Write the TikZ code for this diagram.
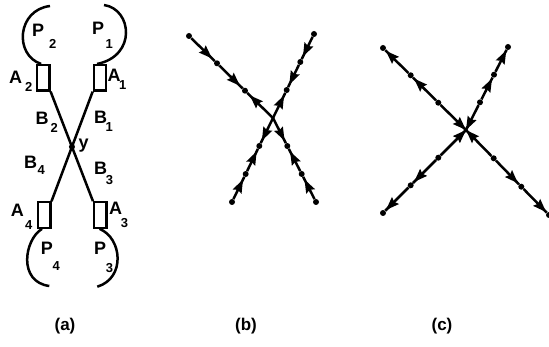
\documentclass[tikz,border=0pt]{standalone}
\usepackage{fontspec}
\setmainfont{Liberation Sans}
\usetikzlibrary{arrows.meta,decorations.markings,calc}
\newcommand\lsub[4]{\makebox[#3pt][l]{#1}\raisebox{-#4pt}{\fontsize{13}{13}\selectfont #2}}
\begin{document}
\begin{tikzpicture}[x=1pt,y=-1pt,
  ln/.style={line width=2.5pt},
  boxA/.style={draw,line width=2.2pt,minimum width=12.5pt,minimum height=25.5pt,inner sep=0pt},
  junc/.style={circle,fill,inner sep=0pt,minimum size=6pt},
  lbl/.style={inner sep=0pt,anchor=base west,font=\fontsize{18}{18}\selectfont\bfseries},
  captxt/.style={inner sep=0pt,anchor=base,font=\fontsize{17}{17}\selectfont\bfseries},
  seg/.style={line width=2.5pt,postaction={decorate},decoration={markings,mark=at position #1 with {\fill (0pt,0pt) -- (-13.5pt,5pt) -- (-11.5pt,0pt) -- (-13.5pt,-5pt) -- cycle;}}},
]
\useasboundingbox (0,0) rectangle (549,347);
% ---------- (a)
\node[boxA] (a2) at (43.3,77.8) {};
\node[boxA] (a1) at (100,77.8) {};
\node[boxA] (a4) at (44.2,215) {};
\node[boxA] (a3) at (100.3,215) {};
\coordinate (yc) at (intersection of a2.south east--a3.north west and a1.south west--a4.north east);
\node[junc] (y) at (yc) {};
\draw[ln] (a2.south east) -- (y.center) -- (a3.north west);
\draw[ln] (a1.south west) -- (y.center) -- (a4.north east);
\coordinate (p2s) at (50,6);
\coordinate (p1s) at (104,5);
\coordinate (p4e) at (49.3,286);
\coordinate (p3e) at (97.3,286.7);
\draw[ln] (p2s) .. controls (17,10) and (14,55) .. ($(a2.north west)!0.35!(a2.north east)$);
\draw[ln] (p1s) .. controls (132,9) and (137,56) .. ($(a1.north west)!0.3!(a1.north east)$);
\draw[ln] ($(a4.south west)!0.35!(a4.south east)$) .. controls (24,240) and (18,282) .. (p4e);
\draw[ln] ($(a3.south west)!0.45!(a3.south east)$) .. controls (122,238) and (126,278) .. (p3e);
\node[lbl] (lp2) at (32,36.7) {\lsub{P}{2}{17}{11.7}};
\node[lbl] (lp1) at (92,35) {\lsub{P}{1}{13.3}{14}};
\node[lbl] (la2) at (9,83.3) {\lsub{A}{2}{16}{8.7}};
\node[lbl] (la1) at (107.5,81.7) {\lsub{A}{1}{11.4}{8.3}};
\node[lbl] (lb2) at (35.5,125) {\lsub{B}{2}{15}{8}};
\node[lbl] (lb1) at (94,123.3) {\lsub{B}{1}{11.3}{8.4}};
\node[lbl] (ly) at (78.5,149) {y};
\node[lbl] (lb4) at (24,168.3) {\lsub{B}{4}{13.3}{6}};
\node[lbl] (lb3) at (94,175) {\lsub{B}{3}{11.7}{10}};
\node[lbl] (la4) at (10.7,216.7) {\lsub{A}{4}{14.3}{13}};
\node[lbl] (la3) at (109,215) {\lsub{A}{3}{11.7}{13}};
\node[lbl] (lp4) at (40.7,255) {\lsub{P}{4}{11.7}{15.7}};
\node[lbl] (lp3) at (94,255) {\lsub{P}{3}{11.7}{17.7}};
% ---------- (b)
\coordinate (bX) at (273,118);
\node[junc] (bTL0) at (189,36) {};
\node[junc] (bTL1) at (217,63.3) {};
\node[junc] (bTL2) at (245,90.7) {};
\node[junc] (bTR0) at (314,34) {};
\node[junc] (bTR1) at (300.3,62) {};
\node[junc] (bTR2) at (286.7,90) {};
\node[junc] (bBL0) at (232,202) {};
\node[junc] (bBL1) at (245.7,174) {};
\node[junc] (bBL2) at (259.3,146) {};
\node[junc] (bBR0) at (316,202) {};
\node[junc] (bBR1) at (301.7,174) {};
\node[junc] (bBR2) at (287.3,146) {};
\foreach \b in {TL,TR,BL,BR}{
  \draw[seg=0.88] (b\b0) -- (b\b1);
  \draw[seg=0.88] (b\b1) -- (b\b2);
  \draw[seg=0.9] (bX) -- (b\b2);
}
% ---------- (c)
\coordinate (cX) at (466,130);
\node[junc] (cTL0) at (383,48) {};
\node[junc] (cTL1) at (410.7,75.3) {};
\node[junc] (cTL2) at (438.3,102.7) {};
\node[junc] (cTR0) at (508,47) {};
\node[junc] (cTR1) at (494,74.7) {};
\node[junc] (cTR2) at (480,102.3) {};
\node[junc] (cBL0) at (383,213) {};
\node[junc] (cBL1) at (410.7,185.3) {};
\node[junc] (cBL2) at (438.3,157.7) {};
\node[junc] (cBR0) at (549,215) {};
\node[junc] (cBR1) at (521.3,186.7) {};
\node[junc] (cBR2) at (493.7,158.3) {};
\foreach \b in {TL,TR,BL,BR}{
  \draw[seg=0.97] (c\b1) -- (c\b0);
  \draw[seg=0.95] (c\b2) -- (c\b1);
  \draw[seg=0.995] (c\b2) -- (cX);
}
% ---------- captions
\node[captxt] (capa) at (65,331) {(a)};
\node[captxt] (capb) at (246,331) {(b)};
\node[captxt] (capc) at (442,331) {(c)};
\end{tikzpicture}
\end{document}
